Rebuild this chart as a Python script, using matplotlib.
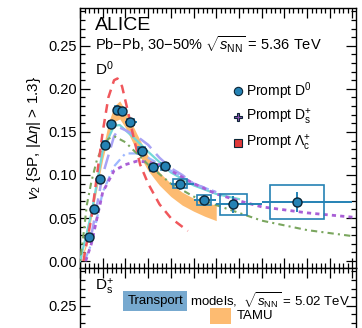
import numpy as np
import matplotlib
matplotlib.use("Agg")
import matplotlib.pyplot as plt
from matplotlib.patches import Rectangle
from matplotlib.ticker import MultipleLocator, FormatStrFormatter

plt.rcParams["font.family"] = ["Liberation Sans", "DejaVu Sans"]
plt.rcParams["mathtext.fontset"] = "custom"
plt.rcParams["mathtext.rm"] = "Liberation Sans"
plt.rcParams["mathtext.it"] = "Liberation Sans:italic"
plt.rcParams["mathtext.bf"] = "Liberation Sans:bold"

# ---- prompt D0 v2 measurement, Pb-Pb 30-50%, 5.36 TeV ----
bin_lo = [0.5, 1.0, 1.5, 2.0, 2.5, 3.0, 3.5, 4.0, 5.0, 6.0, 7.0, 8.0, 10.0, 12.0, 16.0]
bin_hi = [1.0, 1.5, 2.0, 2.5, 3.0, 3.5, 4.0, 5.0, 6.0, 7.0, 8.0, 10.0, 12.0, 16.0, 24.0]
pt_mean = [0.75, 1.22, 1.72, 2.22, 2.72, 3.22, 3.72, 4.42, 5.43, 6.45, 7.45, 8.8, 10.95, 13.5, 19.1]
v2 = [0.028, 0.060, 0.095, 0.135, 0.159, 0.1755, 0.174, 0.1615, 0.128, 0.109, 0.1103,
      0.090, 0.071, 0.066, 0.0686]
v2_stat = [0.003, 0.003, 0.003, 0.003, 0.003, 0.003, 0.003, 0.003, 0.003, 0.003, 0.004,
           0.004, 0.006, 0.010, 0.012]
v2_syst = [0.003, 0.003, 0.003, 0.004, 0.004, 0.004, 0.004, 0.004, 0.004, 0.004, 0.004,
           0.005, 0.006, 0.012, 0.020]

# ---- transport model predictions, 5.02 TeV ----
tamu_pt = [0.0, 0.5, 1.0, 1.5, 2.0, 2.5, 3.0, 3.5, 4.0, 5.0, 6.0, 7.0, 8.0, 9.0, 10.0, 11.0, 12.0]
tamu_lo = [0.0, 0.015, 0.050, 0.085, 0.118, 0.145, 0.162, 0.165, 0.155, 0.128, 0.105, 0.088,
           0.075, 0.065, 0.058, 0.052, 0.047]
tamu_hi = [0.0, 0.020, 0.058, 0.095, 0.130, 0.160, 0.180, 0.186, 0.175, 0.148, 0.122, 0.103,
           0.090, 0.080, 0.073, 0.068, 0.065]

cyan_pt = [0.0, 1.0, 2.0, 3.0, 3.5, 4.0, 5.0, 6.0, 7.0, 8.0, 10.0, 12.0, 14.0]
cyan_v2 = [0.0, 0.055, 0.128, 0.157, 0.158, 0.152, 0.140, 0.127, 0.115, 0.103, 0.088, 0.078, 0.072]

red_pt = [0.3, 1.0, 1.5, 2.0, 2.5, 3.0, 3.3, 3.7, 4.2, 4.7, 5.3, 6.0, 7.0, 8.0, 9.5]
red_v2 = [0.0, 0.050, 0.100, 0.150, 0.190, 0.210, 0.212, 0.203, 0.175, 0.145, 0.112, 0.090,
          0.066, 0.050, 0.035]

green_pt = [0.0, 0.3, 0.6, 1.0, 1.5, 2.0, 2.5, 3.0, 4.0, 5.0, 6.0, 8.0, 10.0, 12.0, 14.0, 16.0,
            20.0, 24.0]
green_v2 = [0.0, 0.030, 0.065, 0.092, 0.118, 0.133, 0.142, 0.145, 0.138, 0.125, 0.112, 0.090,
            0.075, 0.065, 0.056, 0.047, 0.036, 0.029]

purple_pt = [0.5, 1.0, 2.0, 3.0, 4.0, 5.0, 6.0, 7.0, 8.0, 10.0, 12.0, 14.0, 16.0, 20.0, 24.0]
purple_v2 = [0.0, 0.020, 0.080, 0.105, 0.112, 0.116, 0.115, 0.112, 0.105, 0.090, 0.078, 0.070,
             0.063, 0.056, 0.051]

lav_pt = [1.0, 2.0, 3.0, 3.5, 4.0, 5.0, 6.0, 7.0, 8.0, 9.0, 10.0, 12.0]
lav_v2 = [0.030, 0.100, 0.145, 0.155, 0.152, 0.145, 0.135, 0.120, 0.108, 0.100, 0.090, 0.080]

lblue_pt = [0.4, 1.0, 1.5, 2.0, 3.0, 4.0, 5.0, 6.0, 8.0, 10.0, 12.0]
lblue_v2 = [0.0, 0.020, 0.050, 0.080, 0.110, 0.125, 0.125, 0.120, 0.105, 0.090, 0.080]

DATA_BLUE = "#2582b4"
EDGE = "#0b2536"

fig = plt.figure(figsize=(3.62, 3.28), dpi=100)
ax = fig.add_axes([0.221, 0.183, 0.762, 0.793])
ax2 = fig.add_axes([0.221, -0.610, 0.762, 0.793])

for a in (ax, ax2):
    a.set_xlim(0, 24.3)
    a.set_ylim(-0.008, 0.294)
    a.xaxis.set_major_locator(MultipleLocator(2))
    a.xaxis.set_minor_locator(MultipleLocator(0.4))
    a.yaxis.set_major_locator(MultipleLocator(0.05))
    a.yaxis.set_minor_locator(MultipleLocator(0.01))
    a.tick_params(which="both", direction="in", top=True, right=True, bottom=True, left=True,
                  width=0.9, colors="black", labelsize=10.5, pad=2)
    a.tick_params(which="major", length=7)
    a.tick_params(which="minor", length=3.5)
    a.tick_params(axis="x", labelbottom=False)
    a.yaxis.set_major_formatter(FormatStrFormatter("%.2f"))
    for s in a.spines.values():
        s.set_linewidth(1.0)
    a.set_ylabel(r"$v_2$ {SP, |$\Delta\eta$| > 1.3}", fontsize=11, labelpad=4)

# model curves
ax.fill_between(tamu_pt, tamu_lo, tamu_hi, color="#fdb462", alpha=0.9, lw=0, zorder=2)
ax.plot(cyan_pt, cyan_v2, color="#72d8d8", lw=1.6, zorder=3)
ax.plot(lblue_pt, lblue_v2, color="#9db7ff", lw=1.6, ls=(0, (4, 2, 1, 2)), zorder=3)
ax.plot(lav_pt, lav_v2, color="#a9a3f5", lw=1.8, ls=(0, (6, 3)), zorder=3)
ax.plot(purple_pt, purple_v2, color="#a95fd6", lw=2.0, ls=(0, (1.5, 1.5)), zorder=3)
ax.plot(green_pt, green_v2, color="#7aa65e", lw=1.5, ls=(0, (1, 2, 3, 2)), zorder=3)
ax.plot(red_pt, red_v2, color="#f0575c", lw=1.8, ls=(0, (3.5, 2.5)), zorder=3)

# systematic boxes
for lo, hi, m, y, s in zip(bin_lo, bin_hi, pt_mean, v2, v2_syst):
    hw = 0.3 * (hi - lo)
    ax.add_patch(Rectangle((m - hw, y - s), 2 * hw, 2 * s, fill=False,
                           edgecolor=DATA_BLUE, lw=1.2, zorder=4))

xerr = [np.array(pt_mean) - np.array(bin_lo), np.array(bin_hi) - np.array(pt_mean)]
ax.errorbar(pt_mean, v2, yerr=v2_stat, xerr=xerr, fmt="none", ecolor=DATA_BLUE,
            elinewidth=1.4, capsize=0, zorder=5)
ax.plot(pt_mean, v2, "o", ms=6.5, mfc=DATA_BLUE, mec=EDGE, mew=1.0, zorder=6)

# texts
ax.text(0.055, 0.915, "ALICE", transform=ax.transAxes, fontsize=14, va="baseline")
ax.text(0.055, 0.838, r"Pb$-$Pb, 30$-$50% $\sqrt{s_{\rm NN}}$ = 5.36 TeV",
        transform=ax.transAxes, fontsize=10.5, va="baseline")
ax.text(0.055, 0.74, r"D$^0$", transform=ax.transAxes, fontsize=11, va="baseline")

leg_x = 0.573
leg_items = [("o", DATA_BLUE, r"Prompt D$^0$"),
             ("P", "#8b4fb0", r"Prompt D$_{\rm s}^{+}$"),
             ("s", "#e03a3a", r"Prompt $\Lambda_{\rm c}^{+}$")]
for i, (mk, col, lab) in enumerate(leg_items):
    yy = 0.68 - i * 0.1
    ax.plot([leg_x], [yy], mk, transform=ax.transAxes, ms=6, mfc=col, mec=EDGE, mew=0.8,
            clip_on=False, zorder=7)
    ax.text(leg_x + 0.03, yy, lab, transform=ax.transAxes, fontsize=10, va="center")

# lower panel annotations
ax2.text(0.055, 0.925, r"D$_{\rm s}^{+}$", transform=ax2.transAxes, fontsize=11, va="center")
ax2.text(0.172, 0.873, "Transport", transform=ax2.transAxes, fontsize=9.5, va="center",
         bbox=dict(boxstyle="square,pad=0.3", fc="#77a9cf", ec="none"))
ax2.text(0.397, 0.873, r"models,  $\sqrt{s_{\rm NN}}$ = 5.02 TeV", transform=ax2.transAxes,
         fontsize=9.5, va="center")
ax2.add_patch(Rectangle((0.47, 0.785), 0.077, 0.06, transform=ax2.transAxes,
                        fc="#fdb462", ec="none", alpha=0.9))
ax2.text(0.57, 0.815, "TAMU", transform=ax2.transAxes, fontsize=9.5, va="center")

fig.savefig("out.png", dpi=100)
